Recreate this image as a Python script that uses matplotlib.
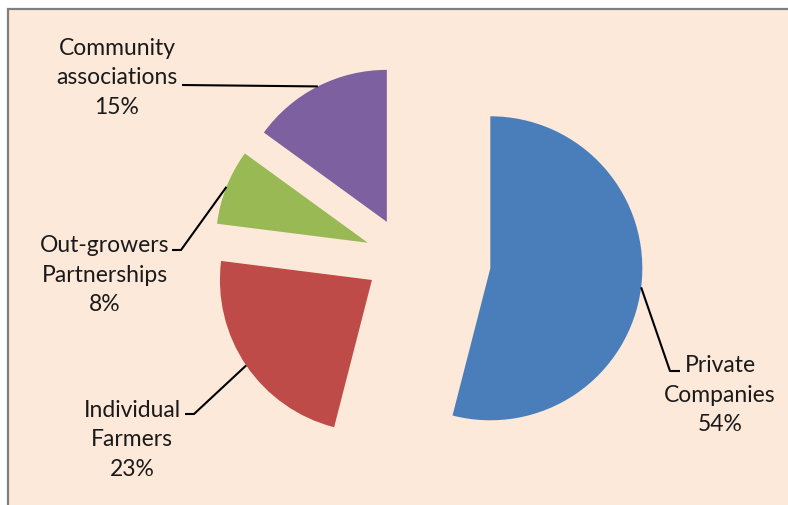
import numpy as np
import matplotlib
matplotlib.use('Agg')
import matplotlib.pyplot as plt
from matplotlib.patches import Rectangle

# share of land deals by investor type
categories = ['Private\nCompanies', 'Individual\nFarmers', 'Out-growers\nPartnerships', 'Community\nassociations']
shares = [54, 23, 8, 15]
colors = ['#4A7EBB', '#BE4B48', '#98B954', '#7D60A0']
explode = [86, 40, 40, 40]

W, H = 788, 505
fig = plt.figure(figsize=(W / 100, H / 100), dpi=100, facecolor='white')
ax = fig.add_axes([0, 0, 1, 1])

wedges, _ = ax.pie(shares, startangle=90, counterclock=False, explode=explode,
                   radius=152, center=(405, H - 257.5), colors=colors,
                   wedgeprops=dict(linewidth=0))
for w in wedges:
    w.set_zorder(2)

# pie() resets the view, so fix the pixel-sized limits afterwards
ax.set_xlim(0, W)
ax.set_ylim(0, H)
ax.set_aspect('equal')
ax.axis('off')

# chart area with grey frame
ax.add_patch(Rectangle((8, -20), W + 40, H - 9 + 20, facecolor='#FDE9D9',
                       edgecolor='#7F7F7F', lw=1.6, zorder=0))

# label text centres and leader elbows (pixels from top-left)
label_xy = [(720, 395), (132, 440), (105, 275), (117, 78)]
elbows = [[(670, 371), (680, 371)],
          [(194, 414), (185, 414)],
          [(181, 250), (172, 250)],
          [(182, 85)]]

for w, cat, val, (tx, ty), elb in zip(wedges, categories, shares, label_xy, elbows):
    mid = np.deg2rad((w.theta1 + w.theta2) / 2)
    cx, cy = w.center
    start = (cx + w.r * np.cos(mid), cy + w.r * np.sin(mid))
    pts = [start] + [(x, H - y) for x, y in elb]
    xs, ys = zip(*pts)
    ax.plot(xs, ys, color='black', lw=1.5, zorder=3, solid_capstyle='butt')
    ax.text(tx, H - ty, f'{cat}\n{val}%', ha='center', va='center',
            fontsize=16.5, family='Lato', color='#1A1A1A', linespacing=1.52, zorder=4)

plt.savefig('out.png', dpi=100, facecolor=fig.get_facecolor())
